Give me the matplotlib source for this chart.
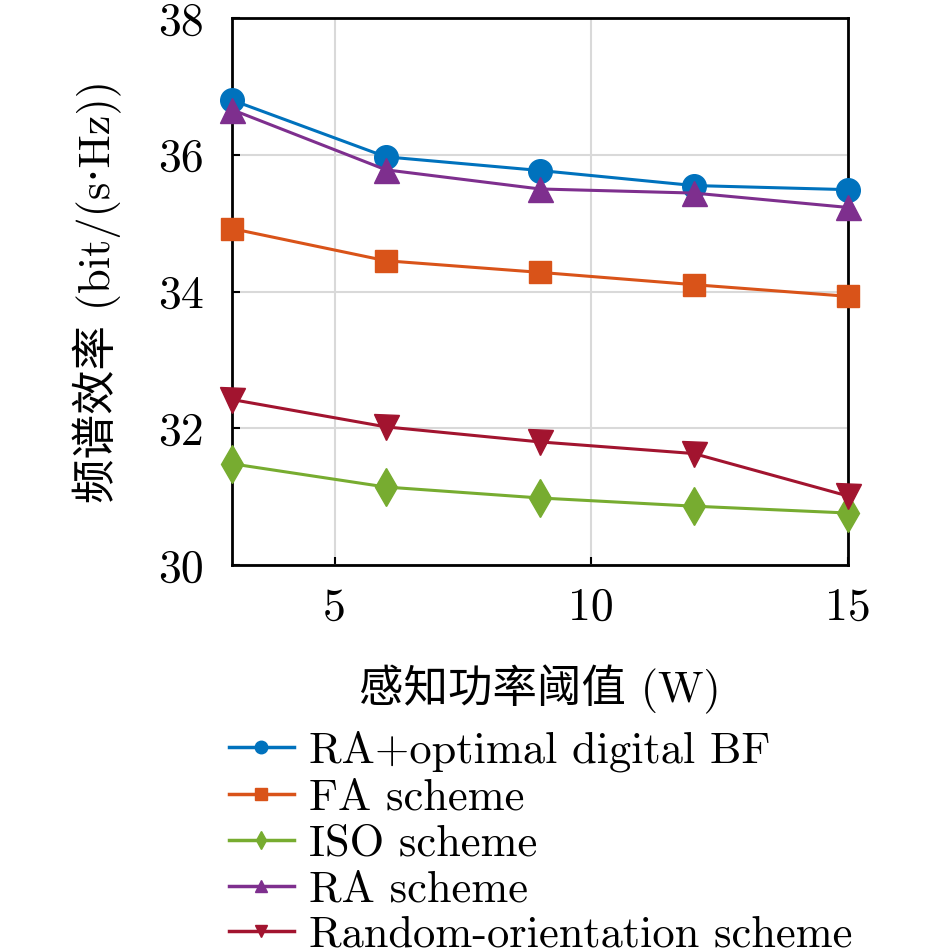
import matplotlib
matplotlib.use("Agg")
import matplotlib.pyplot as plt
from matplotlib.lines import Line2D

x = [3, 6, 9, 12, 15]
ra_opt = [36.80, 35.97, 35.77, 35.55, 35.49]
fa = [34.92, 34.45, 34.28, 34.10, 33.93]
iso = [31.48, 31.14, 30.98, 30.86, 30.76]
ra = [36.66, 35.78, 35.50, 35.44, 35.23]
rand_or = [32.42, 32.02, 31.80, 31.63, 31.01]

labels = ["RA+optimal digital BF", "FA scheme", "ISO scheme", "RA scheme",
          "Random-orientation scheme"]
xticks = [5, 10, 15]
yticks = [30, 32, 34, 36, 38]

fam = ["cmr10", "DejaVu Serif", "Noto Sans CJK SC"]
plt.rcParams["font.family"] = fam
plt.rcParams["mathtext.fontset"] = "cm"
plt.rcParams["axes.unicode_minus"] = False

fig = plt.figure(figsize=(9.45, 9.5), dpi=100)
ax = fig.add_axes([0.2455, 0.4053, 0.897 - 0.2455, 0.981 - 0.4053])

series = [ra_opt, fa, iso, ra, rand_or]
colors = ["#0072BD", "#D95319", "#77AC30", "#7E2F8E", "#A2142F"]
markers = ["o", "s", "d", "^", "v"]
msizes = [17, 16, 19, 18, 18]
for y, c, m, ms, lab in zip(series, colors, markers, msizes, labels):
    ax.plot(x, y, color=c, marker=m, markersize=ms, linewidth=2.2,
            label=lab, clip_on=False, zorder=3)

ax.set_xlim(3, 15)
ax.set_ylim(30, 38)
ax.set_xticks(xticks)
ax.set_yticks(yticks)
ax.grid(True, color="#d9d9d9", linewidth=1.5)
ax.tick_params(direction="in", length=6, width=1.5, labelsize=33)
ax.tick_params(axis="y", pad=20)
ax.tick_params(axis="x", pad=16)
for s in ax.spines.values():
    s.set_linewidth(2)
for t in ax.get_xticklabels() + ax.get_yticklabels():
    t.set_family(fam)

ax.set_xlabel("感知功率阈值 (W)", fontsize=32, family=fam, labelpad=26)
ax.set_ylabel("频谱效率 (bit/(s·Hz))", fontsize=32, family=fam, labelpad=26)

leg_handles = [Line2D([0], [0], color=c, marker=m, markersize=9, linewidth=2.5)
               for c, m in zip(colors, markers)]
fig.legend(leg_handles, labels, loc="upper left", bbox_to_anchor=(0.219, 0.254),
           frameon=False, handlelength=1.45, handletextpad=0.35,
           labelspacing=0.13, borderpad=0, prop={"family": fam, "size": 32})

fig.savefig("out.png", dpi=100)
